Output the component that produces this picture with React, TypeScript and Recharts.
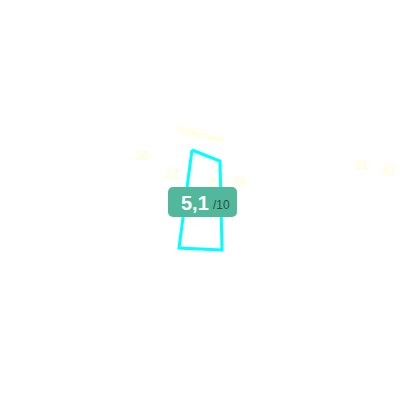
import { ScatterChart, Scatter, XAxis, YAxis } from 'recharts'

// Shape outline (chart units, centre of the plot is 0,0)
const shapeX = [-0.8, 2.0, 2.2, -2.1, -0.8]
const shapeY = [5.0, 3.9, -5.0, -4.8, 5.0]

// Faint annotation labels
const labelText = ['Heikstrand', '20', '22', '24 - 26', '31', '33']
const labelX = [0.1, -5.7, -2.8, 2.8, 16.2, 18.9]
const labelY = [6.6, 4.4, 2.6, 1.8, 3.5, 2.9]
const labelAngle = [14, 0, 0, 0, 0, 0]

// Score badge
const score = '5,1'
const scoreMax = '/10'
const badgeX = [0.25]
const badgeY = [-0.2]

const FONT = '"Liberation Sans", Arial, sans-serif'

const App = () => {
  const outline = shapeX.map((x, i) => ({ x, y: shapeY[i] }))
  const labels = labelText.map((label, i) => ({ x: labelX[i], y: labelY[i], label, angle: labelAngle[i] }))
  const badge = badgeX.map((x, i) => ({ x, y: badgeY[i], score, max: scoreMax }))

  const LabelShape = (props: any) => {
    const { cx, cy, payload } = props
    const size = payload.angle ? 10 : 12
    return (
      <text
        x={cx}
        y={cy}
        fill="#ffffcc"
        fontSize={size}
        fontFamily={FONT}
        textAnchor="middle"
        dominantBaseline="central"
        transform={`rotate(${payload.angle} ${cx} ${cy})`}
      >
        {payload.label}
      </text>
    )
  }

  const BadgeShape = (props: any) => {
    const { cx, cy, payload } = props
    return (
      <g>
        <rect x={cx - 34.5} y={cy - 15} width={69} height={30} rx={5} fill="#52b89b" />
        <text x={cx - 21.5} y={cy + 8} fill="#ffffff" fontSize={20} fontWeight="bold" fontFamily={FONT}>
          {payload.score}
        </text>
        <text x={cx + 10.5} y={cy + 7} fill="#2a4d44" fontSize={12} fontFamily={FONT}>
          {payload.max}
        </text>
      </g>
    )
  }

  return (
    <div style={{ position: 'absolute', left: 0, top: 0, width: 400, height: 400, background: '#ffffff' }}>
      <ScatterChart width={400} height={400} margin={{ top: 0, right: 0, bottom: 0, left: 0 }}>
        <XAxis type="number" dataKey="x" domain={[-20, 20]} hide />
        <YAxis type="number" dataKey="y" domain={[-20, 20]} hide />
        <Scatter data={labels} shape={LabelShape} isAnimationActive={false} />
        <Scatter
          data={outline}
          line={{ stroke: '#00ffff', strokeWidth: 3 }}
          lineType="joint"
          shape={() => <g />}
          isAnimationActive={false}
        />
        <Scatter data={badge} shape={BadgeShape} isAnimationActive={false} />
      </ScatterChart>
    </div>
  )
}

export default App
